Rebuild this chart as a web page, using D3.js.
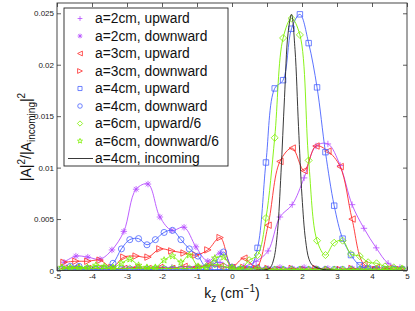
<!DOCTYPE html>
<html>
<head>
<meta charset="utf-8">
<style>
body { margin: 0; background: #fff; }
svg { display: block; font-family: "Liberation Sans", Arial, sans-serif; }
</style>
</head>
<body>
<svg id="chart" width="415" height="311"></svg>
<script src="https://cdn.jsdelivr.net/npm/d3@7/dist/d3.min.js"></script>
<script>

// tick values
var xTicks = [-5, -4, -3, -2, -1, 0, 1, 2, 3, 4, 5];
var yTicks = [0, 0.005, 0.01, 0.015, 0.02, 0.025];
var yTickLabels = ["0", "0.005", "0.01", "0.015", "0.02", "0.025"];

// kz sample points (cm^-1) for a=2cm and a=3cm
var kzA = [-4.80, -4.46, -4.12, -3.77, -3.43, -3.09, -2.74, -2.40, -2.06, -1.72, -1.37, -1.03, -0.69, -0.34, 0,
           0.34, 0.69, 1.03, 1.37, 1.72, 2.06, 2.40, 2.74, 3.09, 3.43, 3.77, 4.12, 4.46, 4.80];
// kz sample points for a=4cm and a=6cm
var kzB = [-4.86, -4.62, -4.37, -4.13, -3.89, -3.65, -3.40, -3.16, -2.92, -2.67, -2.43, -2.19, -1.94, -1.70,
           -1.46, -1.22, -0.97, -0.73, -0.49, -0.24, 0, 0.24, 0.49, 0.73, 0.97, 1.22, 1.46, 1.70, 1.94, 2.19,
           2.43, 2.67, 2.92, 3.16, 3.40, 3.65, 3.89, 4.13, 4.37, 4.62, 4.86];

var a2up   = [0.0002, 0.0002, 0.0001, 0.0002, 0.0001, 0.0002, 0.0002, 0.0001, 0.0002, 0.0003, 0.0002, 0.0004, 0.0005, 0.0008, 0.0003,
              0.0004, 0.0009, 0.0019, 0.0052, 0.0064, 0.0090, 0.0121, 0.0123, 0.0102, 0.0064, 0.0041, 0.0022, 0.0007, 0.0003];
var a2down = [0.0008, 0.0014, 0.0013, 0.0011, 0.0020, 0.0038, 0.0079, 0.0084, 0.0052, 0.0039, 0.0042, 0.0023, 0.0009, 0.0017, 0.0004,
              0.0002, 0.0003, 0.0002, 0.0003, 0.0002, 0.0003, 0.0002, 0.0002, 0.0001, 0.0002, 0.0001, 0.0001, 0.0001, 0.0001];
var a3up   = [0.0002, 0.0003, 0.0002, 0.0002, 0.0001, 0.0002, 0.0003, 0.0002, 0.0003, 0.0002, 0.0004, 0.0003, 0.0005, 0.0004, 0.0003,
              0.0012, 0.0003, 0.0044, 0.0106, 0.0119, 0.0097, 0.0121, 0.0116, 0.0101, 0.0050, 0.0006, 0.0003, 0.0002, 0.0001];
var a3down = [0.0008, 0.0009, 0.0009, 0.0010, 0.0003, 0.0013, 0.0014, 0.0013, 0.0021, 0.0019, 0.0017, 0.0015, 0.0020, 0.0032, 0.0003,
              0.0003, 0.0002, 0.0002, 0.0001, 0.0002, 0.0001, 0.0002, 0.0001, 0.0001, 0.0002, 0.0001, 0.0001, 0.0001, 0.0001];

var a4up   = [0.0001, 0.0001, 0.0001, 0.0001, 0.0001, 0.0001, 0.0001, 0.0001, 0.0001, 0.0001, 0.0001, 0.0001, 0.0001, 0.0001,
              0.0001, 0.0001, 0.0001, 0.0001, 0.0001, 0.0001, 0.0001, 0.0001, 0.0001, 0.0022, 0.0105, 0.0177, 0.0185, 0.0235,
              0.0249, 0.0221, 0.0178, 0.0115, 0.0063, 0.0031, 0.0015, 0.0005, 0.0002, 0.0001, 0.0001, 0.0001, 0.0001];
var a4down = [0.00015, 0.0004, 0.0004, 0.0002, 0.0001, 0.0002, 0.0007, 0.0021, 0.0030, 0.0031, 0.0025, 0.0030, 0.0037, 0.0039,
              0.0030, 0.0021, 0.0014, 0.0003, 0.0007, 0.0018, 0.0003, 0.0001, 0.0001, 0.0002, 0.0001, 0.0001, 0.0001, 0.0001,
              0.0001, 0.0001, 0.0001, 0.0001, 0.0001, 0.0001, 0.0001, 0.0001, 0.0001, 0.0001, 0.0001, 0.0001, 0.0001];
var a6up   = [0.0002, 0.0002, 0.0002, 0.0002, 0.0002, 0.0002, 0.0002, 0.0002, 0.0002, 0.0002, 0.0002, 0.0002, 0.0002, 0.0002,
              0.0002, 0.0002, 0.0002, 0.0004, 0.0006, 0.0004, 0.0002, 0.0001, 0.0010, 0.0015, 0.0051, 0.0129, 0.0226, 0.0245,
              0.0229, 0.0107, 0.0029, 0.0015, 0.0027, 0.0029, 0.0016, 0.0014, 0.0008, 0.0007, 0.0004, 0.0003, 0.0002];
var a6down = [0.0003, 0.0003, 0.0003, 0.0003, 0.0005, 0.0004, 0.0003, 0.0007, 0.0011, 0.0005, 0.0003, 0.0003, 0.0010, 0.0014,
              0.0008, 0.0015, 0.0004, 0.0003, 0.0012, 0.0013, 0.0003, 0.0002, 0.0001, 0.0002, 0.0001, 0.0001, 0.0001, 0.0001,
              0.0001, 0.0001, 0.0001, 0.0001, 0.0001, 0.0001, 0.0001, 0.0001, 0.0001, 0.0001, 0.0001, 0.0001, 0.0001];

// incoming wave spectrum, a=4cm
var kzIn = [-5, -2, 0, 0.6, 0.8, 1.0, 1.1, 1.2, 1.3, 1.4, 1.5, 1.6, 1.7, 1.8, 1.9, 2.0, 2.1, 2.2, 2.3, 2.4, 2.5, 2.6, 2.8, 3.0, 4, 5];
var a4in = [0, 0, 0, 0, 0.00005, 0.0001, 0.0003, 0.0012, 0.0038, 0.0095, 0.0168, 0.0230, 0.0249, 0.0215, 0.0140, 0.0072,
            0.0030, 0.0011, 0.0005, 0.0003, 0.0002, 0.0001, 0.00005, 0, 0, 0];

var labels = ["a=2cm, upward", "a=2cm, downward", "a=3cm, upward", "a=3cm, downward",
              "a=4cm, upward", "a=4cm, downward", "a=6cm, upward/6", "a=6cm, downward/6", "a=4cm, incoming"];

var magenta = "#b54dff", red = "#ff2b2b", blue = "#4a63ff", green = "#7cf000", black = "#222";

var series = [
  {kz: kzA, v: a2up,   color: magenta, marker: "plus"},
  {kz: kzA, v: a2down, color: magenta, marker: "asterisk"},
  {kz: kzA, v: a3up,   color: red,     marker: "triLeft"},
  {kz: kzA, v: a3down, color: red,     marker: "triRight"},
  {kz: kzB, v: a4up,   color: blue,    marker: "square"},
  {kz: kzB, v: a4down, color: blue,    marker: "circle"},
  {kz: kzB, v: a6up,   color: green,   marker: "diamond"},
  {kz: kzB, v: a6down, color: green,   marker: "pentagram"},
  {kz: kzIn, v: a4in,  color: black,   marker: null}
];

var svg = d3.select("#chart");
var pLeft = 57, pRight = 407, pTop = 3, pBottom = 270.5;

var x = d3.scaleLinear().domain([-5, 5]).range([pLeft, pRight]);
var y = d3.scaleLinear().domain([0, 0.026]).range([pBottom, pTop]);

function markerPath(type, s) {
  switch (type) {
    case "plus": return "M" + (-s) + ",0H" + s + "M0," + (-s) + "V" + s;
    case "asterisk":
      var d = s * 0.72;
      return "M" + (-s) + ",0H" + s + "M0," + (-s) + "V" + s +
             "M" + (-d) + "," + (-d) + "L" + d + "," + d + "M" + (-d) + "," + d + "L" + d + "," + (-d);
    case "triLeft": return "M" + (-s) + ",0L" + s + "," + (-s) + "L" + s + "," + s + "Z";
    case "triRight": return "M" + s + ",0L" + (-s) + "," + (-s) + "L" + (-s) + "," + s + "Z";
    case "square": var q = s * 0.85; return "M" + (-q) + "," + (-q) + "H" + q + "V" + q + "H" + (-q) + "Z";
    case "diamond": var r = s * 1.1; return "M0," + (-r) + "L" + r + ",0L0," + r + "L" + (-r) + ",0Z";
    case "circle":
      var c = s * 0.95;
      return "M" + c + ",0A" + c + "," + c + " 0 1,1 " + (-c) + ",0A" + c + "," + c + " 0 1,1 " + c + ",0Z";
    case "pentagram":
      var pts = [];
      for (var i = 0; i < 10; i++) {
        var rr = (i % 2 === 0) ? s * 1.1 : s * 0.45;
        var a = -Math.PI / 2 + i * Math.PI / 5;
        pts.push([rr * Math.cos(a), rr * Math.sin(a)]);
      }
      return "M" + pts.map(function(p) { return p[0].toFixed(2) + "," + p[1].toFixed(2); }).join("L") + "Z";
  }
  return "";
}

svg.append("defs").append("clipPath").attr("id", "plotClip")
  .append("rect").attr("x", pLeft).attr("y", pTop).attr("width", pRight - pLeft).attr("height", pBottom - pTop);

// axes, ticks pointing inward on all four sides
var axes = svg.append("g").attr("font-size", 8);

axes.append("g").attr("transform", "translate(0," + pBottom + ")")
  .call(d3.axisBottom(x).tickValues(xTicks).tickSize(-4).tickPadding(3).tickFormat(function(d) { return String(d); }));
axes.append("g").attr("transform", "translate(0," + pTop + ")")
  .call(d3.axisTop(x).tickValues(xTicks).tickSize(-4).tickFormat(""));
axes.append("g").attr("transform", "translate(" + pLeft + ",0)")
  .call(d3.axisLeft(y).tickValues(yTicks).tickSize(-4).tickPadding(3).tickFormat(function(d, i) { return yTickLabels[i]; }));
axes.append("g").attr("transform", "translate(" + pRight + ",0)")
  .call(d3.axisRight(y).tickValues(yTicks).tickSize(-4).tickFormat(""));

axes.selectAll(".domain").remove();
axes.selectAll(".tick line").attr("stroke", "#333").attr("stroke-width", 0.8);
axes.selectAll("text").attr("fill", "#222").attr("font-family", "'Liberation Sans', Arial, sans-serif").attr("font-size", 8);

// data
var plot = svg.append("g").attr("clip-path", "url(#plotClip)");
var line = d3.line()
  .x(function(d) { return x(d[0]); })
  .y(function(d) { return y(d[1]); })
  .curve(d3.curveCatmullRom.alpha(0.5));

series.forEach(function(s) {
  var pts = s.kz.map(function(k, i) { return [k, s.v[i]]; });
  plot.append("path")
    .attr("d", line(pts))
    .attr("fill", "none")
    .attr("stroke", s.color)
    .attr("stroke-width", 0.9);
  if (s.marker) {
    plot.selectAll(null).data(pts).enter().append("path")
      .attr("transform", function(d) { return "translate(" + x(d[0]) + "," + y(d[1]) + ")"; })
      .attr("d", markerPath(s.marker, 3.2))
      .attr("fill", "none")
      .attr("stroke", s.color)
      .attr("stroke-width", 0.8);
  }
});

// plot box
svg.append("rect")
  .attr("x", pLeft).attr("y", pTop)
  .attr("width", pRight - pLeft).attr("height", pBottom - pTop)
  .attr("fill", "none").attr("stroke", "#333").attr("stroke-width", 0.9);

// legend
var lg = svg.append("g");
lg.append("rect").attr("x", 64).attr("y", 8).attr("width", 164).attr("height", 158)
  .attr("fill", "#fff").attr("stroke", "#222").attr("stroke-width", 0.9);

labels.forEach(function(t, i) {
  var cy = 18.5 + i * 17.5;
  var s = series[i];
  if (s.marker) {
    lg.append("path")
      .attr("transform", "translate(80," + cy + ")")
      .attr("d", markerPath(s.marker, 2.4))
      .attr("fill", "none").attr("stroke", s.color).attr("stroke-width", 0.8);
  } else {
    lg.append("line").attr("x1", 68).attr("x2", 93).attr("y1", cy).attr("y2", cy)
      .attr("stroke", s.color).attr("stroke-width", 0.9);
  }
  lg.append("text").attr("x", 95).attr("y", cy).attr("dy", "0.36em")
    .attr("font-size", 13.8).attr("fill", "#111").text(t);
});

// axis titles
var xlab = svg.append("text").attr("x", 232).attr("y", 298)
  .attr("text-anchor", "middle").attr("font-size", 14).attr("fill", "#111");
xlab.append("tspan").text("k");
xlab.append("tspan").attr("font-size", 10).attr("dy", 4).text("z");
xlab.append("tspan").attr("dy", -4).text(" (cm");
xlab.append("tspan").attr("font-size", 10).attr("dy", -6).text("\u22121");
xlab.append("tspan").attr("dy", 6).text(")");

var ylab = svg.append("text").attr("transform", "translate(31,137) rotate(-90)")
  .attr("text-anchor", "middle").attr("font-size", 14).attr("fill", "#111");
ylab.append("tspan").text("|A|");
ylab.append("tspan").attr("font-size", 10).attr("dy", -6).text("2");
ylab.append("tspan").attr("dy", 6).text("/|A");
ylab.append("tspan").attr("font-size", 10).attr("dy", 4).text("incoming");
ylab.append("tspan").attr("dy", -4).text("|");
ylab.append("tspan").attr("font-size", 10).attr("dy", -6).text("2");

</script>
</body>
</html>
